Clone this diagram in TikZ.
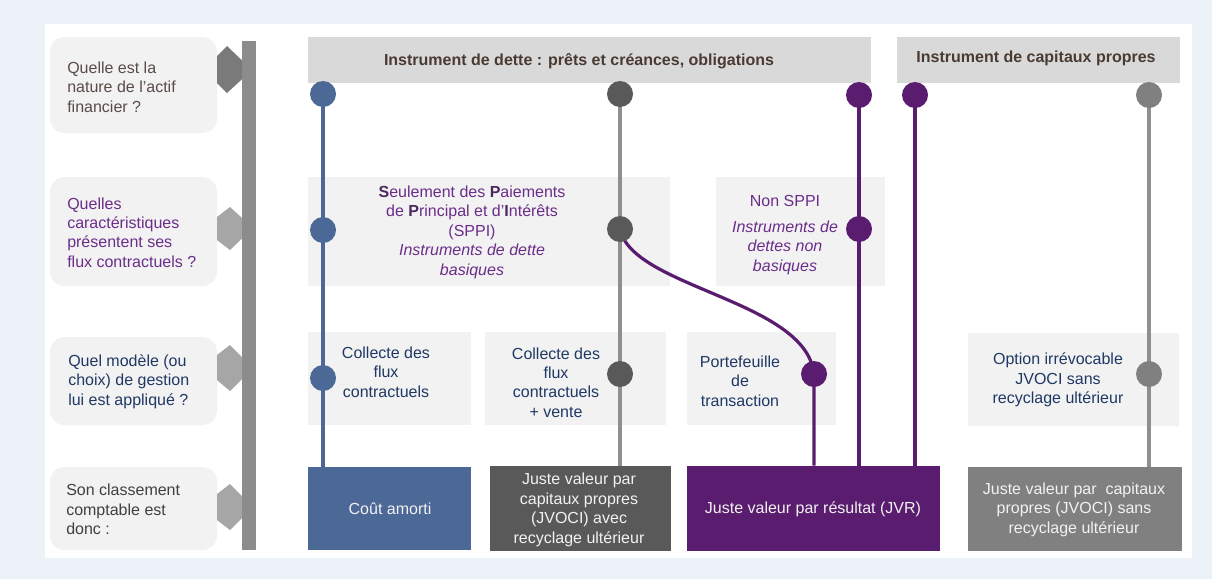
\documentclass[tikz,border=0pt]{standalone}
\usepackage{fontspec}
\setmainfont{Liberation Sans}
\usetikzlibrary{fit}
\definecolor{bgblue}{HTML}{EDF1F8}
\definecolor{boxgray}{HTML}{F2F2F2}
\definecolor{hdrgray}{HTML}{D9D9D9}
\definecolor{barg}{HTML}{8C8C8C}
\definecolor{dmdark}{HTML}{7A7A7A}
\definecolor{dmlight}{HTML}{A6A6A6}
\definecolor{cblue}{HTML}{4B6896}
\definecolor{cdark}{HTML}{595959}
\definecolor{clinegray}{HTML}{8F8F8F}
\definecolor{cpurple}{HTML}{5A1C6E}
\definecolor{cgray}{HTML}{808080}
\definecolor{tbrown}{HTML}{4A3B32}
\definecolor{tpurple}{HTML}{6B2D8A}
\definecolor{tsbold}{HTML}{4A2A5E}
\definecolor{tnavy}{HTML}{1F3864}
\definecolor{tdark}{HTML}{404040}
\definecolor{tqone}{HTML}{5A4B48}
\definecolor{twhite}{HTML}{F2F2F2}
\pgfdeclarelayer{bg}
\pgfdeclarelayer{lines}
\pgfsetlayers{bg,lines,main}
\begin{document}
\begin{tikzpicture}[x=0.75pt,y=-0.75pt,
  txt/.style={align=center, font=\fontsize{12}{14.6}\selectfont, inner sep=0pt},
  qtxt/.style={txt, align=left, anchor=west},
  boxf/.style={inner sep=0pt, fill=boxgray, draw=none},
  qbox/.style={boxf, rounded corners=11pt},
  hdr/.style={inner sep=0pt, fill=hdrgray, draw=none},
  dot/.style={circle, minimum size=19.5pt, inner sep=0pt, draw=none},
  ln/.style={line width=2.4pt}]
\useasboundingbox (0,0) rectangle (1212,579);
\begin{pgfonlayer}{bg}
\fill[bgblue] (0,0) rectangle (1212,579);
\fill[white] (45,24) rectangle (1192,558);
% question boxes
\node[qbox, fit={(50,37) (217,133)}] (qb1) {};
\node[qbox, fit={(50,177) (217,286)}] (qb2) {};
\node[qbox, fit={(50,337) (217,425)}] (qb3) {};
\node[qbox, fit={(50,467) (217,550)}] (qb4) {};
% diamonds
\fill[dmdark] (217,56) -- (227,46) -- (252,70) -- (227,93) -- (217,83) -- cycle;
\fill[dmlight] (217,217) -- (230,207) -- (253,228) -- (230,250) -- (217,240) -- cycle;
\fill[dmlight] (217,355) -- (230,345) -- (253,368) -- (230,391) -- (217,380) -- cycle;
\fill[dmlight] (217,494) -- (230,484) -- (253,507) -- (230,530) -- (217,520) -- cycle;
% vertical bar
\fill[barg] (242,41) rectangle (256,550);
% headers
\node[hdr, fit={(308,37) (871,83)}] (h1) {};
\node[hdr, fit={(897,37) (1180,83)}] (h2) {};
% middle boxes
\node[boxf, fit={(308,177) (670,286)}] (sppib) {};
\node[boxf, fit={(716,177) (885,286)}] (nsppib) {};
% third row boxes
\node[boxf, fit={(308,332) (471,425)}] (colb1) {};
\node[boxf, fit={(485,332) (666,425)}] (colb2) {};
\node[boxf, fit={(687,332) (836,425)}] (portb) {};
\node[boxf, fit={(968,333) (1179,426)}] (optb) {};
% bottom boxes
\node[inner sep=0pt, fill=cblue, fit={(308,467) (471,550)}] (cout) {};
\node[inner sep=0pt, fill=cdark, fit={(490,466) (671,551)}] (jv1) {};
\node[inner sep=0pt, fill=cpurple, fit={(687,466) (940,551)}] (jvr) {};
\node[inner sep=0pt, fill=cgray, fit={(968,467) (1182,551)}] (jv2) {};
\end{pgfonlayer}
% dots
\node[dot, fill=cblue] (d1a) at (323,94) {};
\node[dot, fill=cblue] (d1b) at (323,230) {};
\node[dot, fill=cblue] (d1c) at (323,378) {};
\node[dot, fill=cdark] (d2a) at (620,94) {};
\node[dot, fill=cdark] (d2b) at (620,229) {};
\node[dot, fill=cdark] (d2c) at (620,374) {};
\node[dot, fill=cpurple] (d3a) at (859,95) {};
\node[dot, fill=cpurple] (d3b) at (859,229) {};
\node[dot, fill=cpurple] (d3c) at (814,374) {};
\node[dot, fill=cpurple] (d4a) at (915,95) {};
\node[dot, fill=cgray] (d5a) at (1149,95) {};
\node[dot, fill=cgray] (d5c) at (1149,374) {};
% lines
\begin{pgfonlayer}{lines}
\draw[ln, cblue] (d1a.center) -- (d1b.center) -- (d1c.center) -- (d1c.center |- cout.north);
\draw[ln, clinegray] (d2a.center) -- (d2b.center) -- (d2c.center) -- (d2c.center |- jv1.north);
\draw[ln, cpurple] (d3a.center) -- (d3b.center) -- (d3b.center |- jvr.north);
\draw[ln, cpurple] (d2b.center) .. controls (632,288) and (806,300) .. (d3c.center) -- (d3c.center |- jvr.north);
\draw[ln, cpurple] (d4a.center) -- (d4a.center |- jvr.north);
\draw[ln, clinegray] (d5a.center) -- (d5c.center) -- (d5c.center |- jv2.north);
\end{pgfonlayer}
% question texts
\node[qtxt, text=tqone] (q1) at (67,87) {Quelle est la\\nature de l’actif\\financier ?};
\node[qtxt, text=tpurple] (q2) at (67,232.5) {Quelles\\caractéristiques\\présentent ses\\flux contractuels ?};
\node[qtxt, text=tnavy] (q3) at (68,381.5) {Quel modèle (ou\\choix) de gestion\\lui est appliqué ?};
\node[qtxt, text=tdark] (q4) at (66,509.5) {Son classement\\comptable est\\donc :};
% header texts
\node[txt, text=tbrown, font=\fontsize{12}{14.6}\selectfont\bfseries] (h1t) at (579,61) {Instrument de dette : prêts et créances, obligations};
\node[txt, text=tbrown, font=\fontsize{12}{14.6}\selectfont\bfseries] (h2t) at (1036,58) {Instrument de capitaux propres};
% middle texts
\node[txt, text=tpurple] (sppit) at (472,232) {\textbf{\color{tsbold}S}eulement des \textbf{\color{tsbold}P}aiements\\de \textbf{\color{tsbold}P}rincipal et d’\textbf{\color{tsbold}I}ntérêts\\(SPPI)\\\textit{Instruments de dette}\\\textit{basiques}};
\node[txt, text=tpurple] (nsppit) at (785,235) {Non SPPI\\[4.5pt]\textit{Instruments de}\\\textit{dettes non}\\\textit{basiques}};
% third row texts
\node[txt, text=tnavy] (colt1) at (386,372) {Collecte des\\flux\\contractuels};
\node[txt, text=tnavy] (colt2) at (556,382.5) {Collecte des\\flux\\contractuels\\+ vente};
\node[txt, text=tnavy] (portt) at (740,381) {Portefeuille\\de\\transaction};
\node[txt, text=tnavy] (optt) at (1058,380) {Option irrévocable\\JVOCI sans\\recyclage ultérieur};
% bottom texts
\node[txt, text=twhite] (coutt) at (390,509) {Coût amorti};
\node[txt, text=twhite] (jv1t) at (579,510) {Juste valeur par\\capitaux propres\\(JVOCI) avec\\recyclage ultérieur};
\node[txt, text=twhite] (jvrt) at (813,509) {Juste valeur par résultat (JVR)};
\node[txt, text=twhite] (jv2t) at (1074,509.5) {Juste valeur par\ \ capitaux\\propres (JVOCI) sans\\recyclage ultérieur};
\end{tikzpicture}
\end{document}
